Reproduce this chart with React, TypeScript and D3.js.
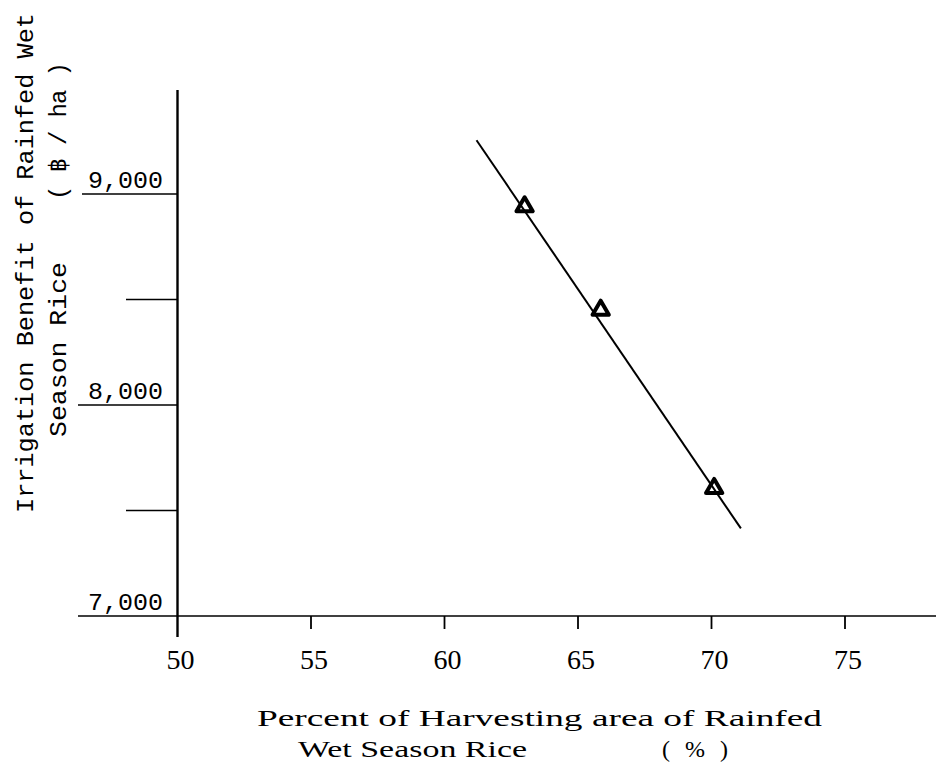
import * as d3 from "d3";

// Observed points (Percent of harvesting area, benefit in Baht/ha)
const pointPct = [63.0, 65.85, 70.1];
const pointBenefit = [8940, 8450, 7605];

// Fitted regression line end points
const linePct = [61.2, 71.1];
const lineBenefit = [9255, 7415];

// Axis ticks
const xTicks = [50, 55, 60, 65, 70, 75];
const yLongTicks = [9000, 8000];
const yShortTicks = [8500, 7500];
const yLabelTicks = [9000, 8000, 7000];

const W = 936;
const H = 765;

export default function App() {
  // Échelles
  const x = d3.scaleLinear().domain([50, 75]).range([177.5, 845]);
  const y = d3.scaleLinear().domain([7000, 9000]).range([616, 194]);

  const line = d3
    .line<number>()
    .x((d) => x(d))
    .y((_, i) => y(lineBenefit[i]));

  const tri = d3.symbol().type(d3.symbolTriangle).size(115)();

  const mono = "'Liberation Mono', 'DejaVu Sans Mono', monospace";
  const serif = "'Liberation Serif', 'DejaVu Serif', serif";
  const axisX = x(50);
  const axisY = y(7000);

  return (
    <svg
      width={W}
      height={H}
      style={{ position: "absolute", left: 0, top: 0, background: "#fff" }}
    >
      {/* Axe Y */}
      <line x1={axisX} x2={axisX} y1={90} y2={637} stroke="#000" strokeWidth={2.4} />
      {yLongTicks.map((t, i) => (
        <line
          key={"yl" + t}
          x1={i === 0 ? 82 : 78}
          x2={axisX}
          y1={y(t)}
          y2={y(t)}
          stroke="#000"
          strokeWidth={1.6}
        />
      ))}
      {yShortTicks.map((t) => (
        <line key={"ys" + t} x1={126} x2={axisX} y1={y(t)} y2={y(t)} stroke="#000" strokeWidth={1.6} />
      ))}
      {yLabelTicks.map((t) => (
        <text
          key={"yt" + t}
          x={163}
          y={y(t) - 6}
          textAnchor="end"
          fontFamily={mono}
          fontSize={24}
          textLength={75}
          lengthAdjust="spacingAndGlyphs"
        >
          {d3.format(",")(t)}
        </text>
      ))}

      {/* Axe X */}
      <line x1={78} x2={W} y1={axisY} y2={axisY} stroke="#000" strokeWidth={1.6} />
      {xTicks.slice(1).map((t) => (
        <line key={"xt" + t} x1={x(t)} x2={x(t)} y1={axisY} y2={axisY + 13} stroke="#000" strokeWidth={1.8} />
      ))}
      {xTicks.map((t) => (
        <text
          key={"xl" + t}
          x={x(t) + 3}
          y={669}
          textAnchor="middle"
          fontFamily={serif}
          fontSize={28}
        >
          {t}
        </text>
      ))}

      {/* Droite de régression */}
      <path d={line(linePct) || ""} fill="none" stroke="#000" strokeWidth={2} />

      {/* Points */}
      {pointPct.map((p, i) => (
        <path
          key={"pt" + i}
          d={tri || ""}
          transform={`translate(${x(p)},${y(pointBenefit[i])})`}
          fill="none"
          stroke="#000"
          strokeWidth={4}
          strokeLinejoin="round"
        />
      ))}

      {/* Titre axe X */}
      <text
        x={257}
        y={726}
        fontFamily={serif}
        fontSize={24}
        textLength={565}
        lengthAdjust="spacingAndGlyphs"
      >
        Percent of Harvesting area of Rainfed
      </text>
      <text
        x={298}
        y={757}
        fontFamily={serif}
        fontSize={24}
        textLength={229}
        lengthAdjust="spacingAndGlyphs"
      >
        Wet Season Rice
      </text>
      <text
        x={662}
        y={757}
        fontFamily={serif}
        fontSize={24}
        textLength={66}
        lengthAdjust="spacing"
      >
        ( % )
      </text>

      {/* Titre axe Y */}
      <text
        transform="translate(33,513) rotate(-90)"
        fontFamily={mono}
        fontSize={24}
        textLength={500}
        lengthAdjust="spacingAndGlyphs"
      >
        Irrigation Benefit of Rainfed Wet
      </text>
      <text
        transform="translate(66,437) rotate(-90)"
        fontFamily={mono}
        fontSize={24}
        textLength={175}
        lengthAdjust="spacingAndGlyphs"
      >
        Season Rice
      </text>
      <text
        transform="translate(66,200) rotate(-90)"
        fontFamily={mono}
        fontSize={24}
        textLength={138}
        lengthAdjust="spacing"
      >
        ( ฿ / ha )
      </text>
    </svg>
  );
}
